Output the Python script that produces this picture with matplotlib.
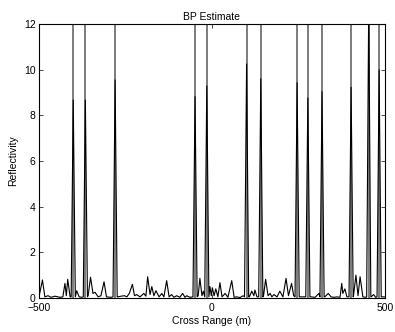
import numpy as np
import matplotlib
matplotlib.use('Agg')
import matplotlib.pyplot as plt

plt.rcParams['font.family'] = ['Liberation Sans', 'DejaVu Sans']

# target positions (m) - true reflectors, drawn off the top of the axes
targets = [-401, -366, -280, -49, -15, 100, 141, 246, 277, 318, 402, 453, 483]

# BP estimate vertices (cross range in m, reflectivity)
est_x = [-500, -490, -483, -474, -465, -454, -439, -431, -425, -421, -417, -410,
         -407, -401, -395, -391, -384, -376, -372, -366, -360, -358, -351, -344,
         -338, -329, -321, -312, -305, -292, -286, -280, -274, -272, -263, -253,
         -246, -239, -230, -224, -218, -208, -197, -191, -186, -179, -174, -168,
         -162, -153, -145, -139, -131, -124, -117, -110, -102, -93, -85, -78,
         -73, -64, -55, -49, -43, -40, -35, -29, -25, -21, -15, -9,
         -6, -2, 1, 6, 11, 17, 23, 29, 38, 46, 57, 64,
         71, 81, 90, 94, 100, 106, 108, 115, 121, 124, 130, 135,
         141, 147, 149, 155, 162, 168, 173, 179, 188, 196, 205, 214,
         221, 230, 236, 240, 246, 252, 254, 260, 271, 277, 283, 286,
         298, 309, 312, 318, 324, 326, 336, 344, 353, 361, 370, 375,
         378, 384, 390, 396, 402, 408, 409, 416, 422, 428, 436, 445,
         447, 453, 459, 460, 467, 473, 477, 483, 489, 491, 500]
est_y = [0.05, 0.79, 0.05, 0.10, 0.03, 0.08, 0.03, 0.05, 0.64, 0.10, 0.82, 0.05,
         0.05, 8.67, 0.05, 0.32, 0.05, 0.03, 0.05, 8.67, 0.05, 0.10, 0.91, 0.20,
         0.25, 0.05, 0.10, 0.71, 0.05, 0.03, 0.05, 9.55, 0.05, 0.05, 0.08, 0.10,
         0.05, 0.20, 0.60, 0.10, 0.15, 0.05, 0.20, 0.08, 0.93, 0.15, 0.50, 0.10,
         0.32, 0.05, 0.20, 0.05, 0.76, 0.05, 0.15, 0.03, 0.10, 0.03, 0.20, 0.03,
         0.10, 0.03, 0.05, 8.82, 0.05, 0.10, 0.86, 0.10, 0.30, 0.05, 9.29, 0.05,
         0.50, 0.10, 0.45, 0.10, 0.40, 0.05, 0.67, 0.05, 0.20, 0.03, 0.76, 0.03,
         0.05, 0.02, 0.10, 0.05, 10.25, 0.05, 0.05, 0.30, 0.10, 0.35, 0.05, 0.05,
         9.60, 0.05, 0.10, 0.82, 0.10, 0.20, 0.05, 0.15, 0.05, 0.30, 0.05, 0.86,
         0.10, 0.64, 0.10, 0.05, 9.43, 0.05, 0.05, 0.05, 0.05, 8.76, 0.05, 0.05,
         0.03, 0.20, 0.05, 9.04, 0.05, 0.05, 0.20, 0.05, 0.03, 0.05, 0.03, 0.64,
         0.20, 0.40, 0.05, 0.05, 9.23, 0.05, 0.10, 1.00, 0.10, 0.93, 0.05, 0.03,
         0.05, 13.0, 0.05, 0.05, 0.15, 0.03, 0.05, 9.99, 0.05, 0.05, 0.05]

fig = plt.figure(figsize=(3.95, 3.32), dpi=100)
ax = fig.add_axes([0.0987, 0.1024, 0.876, 0.8253])

ax.vlines(targets, 0, 20, color='#666666', lw=1.2)
ax.plot(est_x, est_y, color='k', lw=0.8)

ax.set_xlim(-500, 500)
ax.set_ylim(0, 12)
ax.set_xticks([-500, 0, 500])
ax.set_yticks(np.arange(0, 13, 2))
ax.tick_params(direction='in', top=True, right=True, length=3, width=0.5, labelsize=7.5)
ax.tick_params(axis='x', pad=3.5)
ax.tick_params(axis='y', pad=2.5)
for s in ax.spines.values():
    s.set_linewidth(0.8)

ax.set_title('BP Estimate', fontsize=7.5, pad=3)
ax.set_xlabel('Cross Range (m)', fontsize=7.5, labelpad=2)
ax.set_ylabel('Reflectivity', fontsize=7.5, labelpad=4)

fig.savefig('out.png', dpi=100)
